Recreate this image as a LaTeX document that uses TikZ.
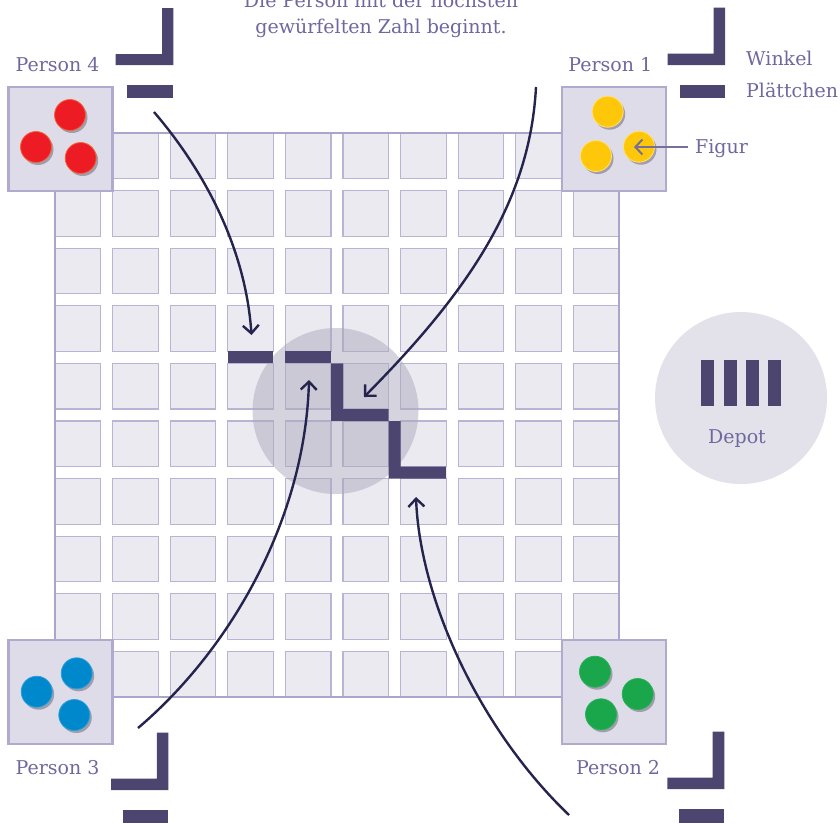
\documentclass[tikz,border=0pt]{standalone}
\usepackage{fontspec}
\setmainfont{DejaVu Serif}
\usetikzlibrary{arrows.meta}
\definecolor{textc}{RGB}{110,104,158}
\definecolor{darkc}{RGB}{75,69,112}
\definecolor{arrowc}{RGB}{36,36,78}
\definecolor{cellfill}{RGB}{235,234,240}
\definecolor{cellline}{RGB}{185,180,212}
\definecolor{boardline}{RGB}{170,165,202}
\definecolor{sqfill}{RGB}{222,220,232}
\definecolor{sqline}{RGB}{176,170,206}
\definecolor{depotfill}{RGB}{227,226,234}
\definecolor{centerc}{RGB}{172,169,190}
\definecolor{figline}{RGB}{118,112,152}
\definecolor{redtok}{RGB}{237,28,36}
\definecolor{rededge}{RGB}{242,100,60}
\definecolor{yeltok}{RGB}{255,199,10}
\definecolor{yeledge}{RGB}{255,225,120}
\definecolor{bluetok}{RGB}{0,136,204}
\definecolor{blueedge}{RGB}{40,160,220}
\definecolor{greentok}{RGB}{26,166,75}
\definecolor{greenedge}{RGB}{40,176,90}
\definecolor{shadowc}{RGB}{160,157,172}
\begin{document}
\begin{tikzpicture}[x=1pt,y=-1pt,
  cellbox/.style={fill=cellfill,draw=cellline,line width=1.3pt},
  psq/.style={rectangle,fill=sqfill,draw=sqline,line width=2.4pt,minimum size=104pt,inner sep=0pt},
  lbl/.style={text=textc,font=\fontsize{19}{24}\selectfont,inner sep=0pt,anchor=base},
  lblw/.style={text=textc,font=\fontsize{19}{24}\selectfont,inner sep=0pt,anchor=base west},
  piece/.style={fill=darkc},
  arr/.style={draw=arrowc,line width=2.4pt,-{Straight Barb[length=8pt,width=16pt,line width=2.4pt]}},
  figarr/.style={draw=figline,line width=2pt,-{Straight Barb[length=7pt,width=15pt,line width=2pt]}}]
\useasboundingbox (0,0) rectangle (840,823);

% board
\foreach \i in {0,...,9}{
  \foreach \j in {0,...,9}{
    \draw[cellbox] ({55+57.6*\i},{133+57.6*\j}) rectangle +(45.6,45.6);
  }
}
\draw[draw=boardline,line width=1.8pt] (55,133) rectangle (619,697);

% centre highlight
\fill[centerc,fill opacity=0.5] (335.5,411) circle[radius=83pt];

% pieces on board
\fill[piece] (227.8,351.4) rectangle (273.4,363.4);
\fill[piece] (285.4,351.4) rectangle (331,363.4);
\fill[piece] (331,363.4) -- (343,363.4) -- (343,409) -- (388.6,409) -- (388.6,421) -- (331,421) -- cycle;
\fill[piece] (388.6,421) -- (400.6,421) -- (400.6,466.6) -- (446.2,466.6) -- (446.2,478.6) -- (388.6,478.6) -- cycle;

% player squares
\node[psq] (sq4) at (60.5,139) {};
\node[psq] (sq1) at (614,139) {};
\node[psq] (sq3) at (60.5,692) {};
\node[psq] (sq2) at (614,692) {};

% tokens
\foreach \x/\y in {70/115, 36/147, 80.7/158}{
  \fill[shadowc] ({\x+2},{\y+2.5}) circle[radius=15.5pt];
  \filldraw[fill=redtok,draw=rededge,line width=0.8pt] (\x,\y) circle[radius=15.5pt];
}
\foreach \x/\y in {607.7/111.7, 596/156, 639/146.7}{
  \fill[shadowc] ({\x+2},{\y+2.5}) circle[radius=15.5pt];
  \filldraw[fill=yeltok,draw=yeledge,line width=0.8pt] (\x,\y) circle[radius=15.5pt];
}
\foreach \x/\y in {76.7/673.3, 36.7/691.7, 74.3/715}{
  \fill[shadowc] ({\x+2},{\y+2.5}) circle[radius=15.5pt];
  \filldraw[fill=bluetok,draw=blueedge,line width=0.8pt] (\x,\y) circle[radius=15.5pt];
}
\foreach \x/\y in {595/671.7, 637.7/694, 601/714.3}{
  \fill[shadowc] ({\x+2},{\y+2.5}) circle[radius=15.5pt];
  \filldraw[fill=greentok,draw=greenedge,line width=0.8pt] (\x,\y) circle[radius=15.5pt];
}

% legend pieces (Winkel + Plaettchen) at the four corners
\fill[piece] (162,8) -- (173.3,8) -- (173.3,65) -- (115.7,65) -- (115.7,54) -- (162,54) -- cycle;
\fill[piece] (127.3,85) rectangle (173.3,97.7);
\fill[piece] (713.5,7.5) -- (725,7.5) -- (725,65) -- (667.7,65) -- (667.7,53.5) -- (713.5,53.5) -- cycle;
\fill[piece] (680,85) rectangle (725,97.7);
\fill[piece] (156.8,732.7) -- (168.3,732.7) -- (168.3,790) -- (111,790) -- (111,778.5) -- (156.8,778.5) -- cycle;
\fill[piece] (123.3,810) rectangle (168.3,823);
\fill[piece] (712.5,731.7) -- (724.3,731.7) -- (724.3,789) -- (667.3,789) -- (667.3,777.5) -- (712.5,777.5) -- cycle;
\fill[piece] (679,809) rectangle (724.3,823);

% depot
\node[circle,fill=depotfill,minimum size=172pt,inner sep=0pt] (depot) at (741,398) {};
\foreach \x in {701,723.5,746,768.3}{
  \fill[piece] (\x,360) rectangle +(13,46);
}
\node[lbl] (depotlbl) at (737,443) {Depot};

% labels
\node[lbl] (p4) at (57.5,71.7) {Person 4};
\node[lbl] (p1) at (610.3,71.7) {Person 1};
\node[lbl] (p3) at (57.5,774) {Person 3};
\node[lbl] (p2) at (618,774) {Person 2};
\node[lblw] (winkel) at (746,65) {Winkel};
\node[lblw] (plaett) at (746,97.7) {Plättchen};
\node[lblw] (figur) at (695,153.3) {Figur};
\node[lbl] (top1) at (381,7) {Die Person mit der höchsten};
\node[lbl] (top2) at (381,33) {gewürfelten Zahl beginnt.};

% Figur arrow
\coordinate (figtip) at (634,147);
\draw[figarr] (688,147) -- (figtip);

% move arrows
\coordinate (a4s) at (154,112);
\coordinate (a4e) at (251.5,335);
\draw[arr] (a4s) .. controls (197,162) and (245,240) .. (a4e);
\coordinate (a1s) at (536,87);
\coordinate (a1e) at (364,397);
\draw[arr] (a1s) .. controls (530,200) and (470,290) .. (a1e);
\coordinate (a3s) at (138,728);
\coordinate (a3e) at (309,380);
\draw[arr] (a3s) .. controls (230,650) and (305,520) .. (a3e);
\coordinate (a2s) at (569,815);
\coordinate (a2e) at (416,497);
\draw[arr] (a2s) .. controls (480,730) and (420,600) .. (a2e);
\end{tikzpicture}
\end{document}
